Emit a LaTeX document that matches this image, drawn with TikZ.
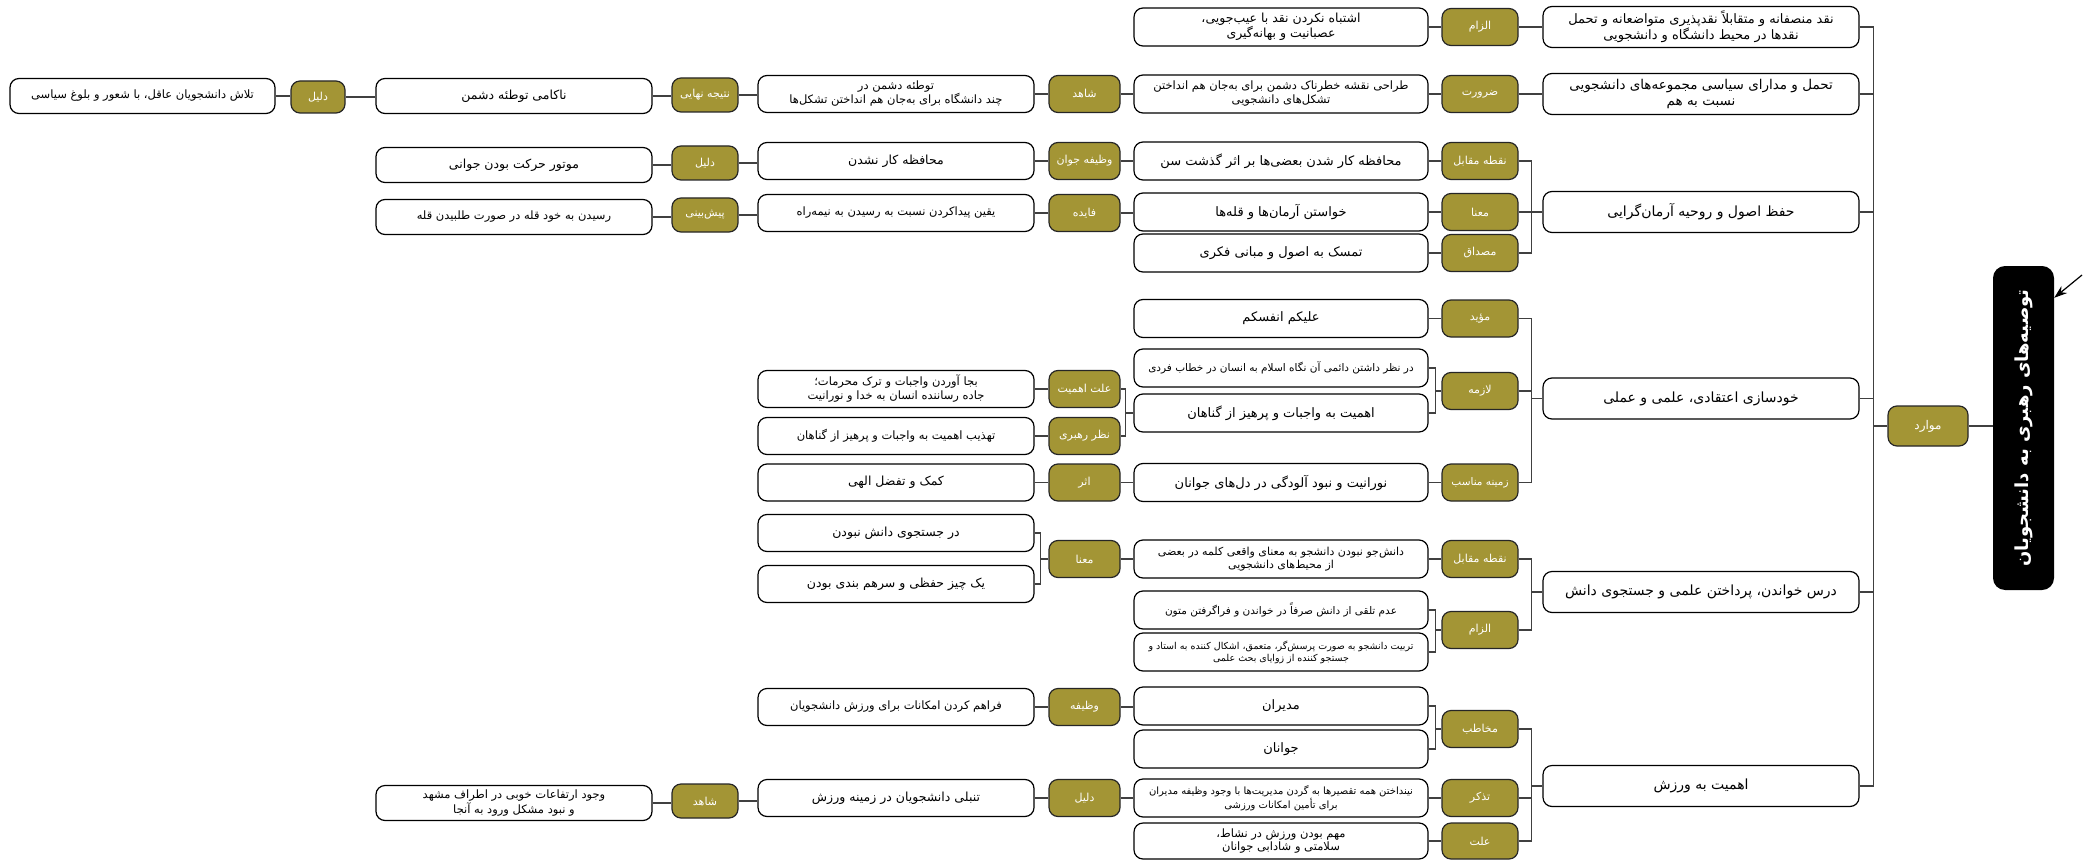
\documentclass[tikz,border=0pt]{standalone}
\usepackage{fontspec}
\usetikzlibrary{arrows.meta}
\TeXXeTstate=1
\newfontfamily\arabicfont[Script=Arabic]{DejaVu Sans}
\newcommand{\fa}[1]{\beginR #1\endR}
\newcommand{\fnt}[2]{\arabicfont\fontsize{#1}{#2}\selectfont}
\definecolor{olivetag}{RGB}{163,149,53}
\definecolor{linegray}{RGB}{64,64,64}
\begin{document}
\begin{tikzpicture}[x=1pt,y=-1pt,
  box/.style={draw=black, line width=1.2pt, rounded corners=9pt, fill=white, align=center, inner sep=1pt, font=\fnt{12.5}{14.5}},
  tg/.style={draw=black!85, line width=1.2pt, rounded corners=9pt, fill=olivetag, text=white, align=center, inner sep=1pt, font=\fnt{11}{13}},
  l1/.style={box, minimum width=316pt, minimum height=41pt, font=\fnt{14}{16}},
  ct2/.style={box, minimum width=294pt, minimum height=38pt},
  tg2/.style={tg, minimum width=76pt, minimum height=37pt},
  tg3/.style={tg, minimum width=71pt, minimum height=37pt},
  ct3/.style={box, minimum width=276pt, minimum height=37pt},
  tg4/.style={tg, minimum width=66pt, minimum height=34pt},
  ct4/.style={box, minimum width=276pt, minimum height=35pt},
  con/.style={draw=linegray, line width=1.3pt},
]
\useasboundingbox[fill=white] (0,0) rectangle (2098,861);

% title
\node[fill=black, rounded corners=12pt, rotate=90, minimum width=324pt, minimum height=61pt, text=white, font=\arabicfont\bfseries\fontsize{18}{22}\selectfont] (T) at (2023.5,428) {\fa{توصیه^^^^200cهای رهبری به دانشجویان}};
\node[tg, minimum width=80pt, minimum height=40pt, font=\fnt{12}{14}] (M) at (1928,426) {\fa{موارد}};
\draw[con] (M.east) -- (M.east -| T.north);
\coordinate (arrtail) at (2082,275);
\draw[line width=1.2pt, -{Stealth[length=13pt,width=9pt]}] (arrtail) -- ([yshift=-32pt]T.south east);

% level 1
\node[l1, font=\fnt{13}{16}] (L1a) at (1701,27) {\fa{نقد منصفانه و متقابلاً نقدپذیری متواضعانه و تحمل}\\\fa{نقدها در محیط دانشگاه و دانشجویی}};
\node[l1, font=\fnt{13.5}{16}] (L1b) at (1701,94) {\fa{تحمل و مدارای سیاسی مجموعه^^^^200cهای دانشجویی}\\\fa{نسبت به هم}};
\node[l1] (L1c) at (1701,212) {\fa{حفظ اصول و روحیه آرمان^^^^200cگرایی}};
\node[l1] (L1d) at (1701,398.5) {\fa{خودسازی اعتقادی، علمی و عملی}};
\node[l1] (L1e) at (1701,592) {\fa{درس خواندن، پرداختن علمی و جستجوی دانش}};
\node[l1] (L1f) at (1701,786) {\fa{اهمیت به ورزش}};
\foreach \X in {L1a,L1b,L1c,L1d,L1e,L1f}{
  \draw[con] (\X.east) -| ([xshift=-14pt]M.west) -- (M.west);
}

% level 2 tags
\node[tg2] (t2a) at (1480,27) {\fa{الزام}};
\node[tg2] (t2b) at (1480,94) {\fa{ضرورت}};
\node[tg2] (t2c) at (1480,161) {\fa{نقطه مقابل}};
\node[tg2] (t2d) at (1480,212) {\fa{معنا}};
\node[tg2] (t2e) at (1480,253) {\fa{مصداق}};
\node[tg2] (t2f) at (1480,318.5) {\fa{مؤید}};
\node[tg2] (t2g) at (1480,391) {\fa{لازمه}};
\node[tg2, font=\fnt{10.5}{13}] (t2h) at (1480,482.5) {\fa{زمینه مناسب}};
\node[tg2] (t2i) at (1480,559) {\fa{نقطه مقابل}};
\node[tg2] (t2j) at (1480,630) {\fa{الزام}};
\node[tg2] (t2k) at (1480,729) {\fa{مخاطب}};
\node[tg2] (t2l) at (1480,798) {\fa{تذکر}};
\node[tg2, minimum height=36pt] (t2m) at (1480,841) {\fa{علت}};

\draw[con] (t2a.east) -- (t2a.east -| L1a.west);
\draw[con] (t2b.east) -- (t2b.east -| L1b.west);
\foreach \C/\P in {t2c/L1c,t2d/L1c,t2e/L1c,t2f/L1d,t2g/L1d,t2h/L1d,t2i/L1e,t2j/L1e,t2k/L1f,t2l/L1f,t2m/L1f}{
  \draw[con] (\C.east) -| ([xshift=-11pt]\P.west) -- (\P.west);
}

% level 2 content
\node[ct2] (c2a) at (1281,27) {\fa{اشتباه نکردن نقد با عیب^^^^200cجویی،}\\\fa{عصبانیت و بهانه^^^^200cگیری}};
\node[ct2, font=\fnt{11.5}{14}] (c2b) at (1281,94) {\fa{طراحی نقشه خطرناک دشمن برای به^^^^200cجان هم انداختن}\\\fa{تشکل^^^^200cهای دانشجویی}};
\node[ct2, font=\fnt{13}{15}] (c2c) at (1281,161) {\fa{محافظه کار شدن بعضی^^^^200cها بر اثر گذشت سن}};
\node[ct2, font=\fnt{13}{15}] (c2d) at (1281,212) {\fa{خواستن آرمان^^^^200cها و قله^^^^200cها}};
\node[ct2, font=\fnt{13}{15}] (c2e) at (1281,253) {\fa{تمسک به اصول و مبانی فکری}};
\node[ct2, font=\fnt{13}{15}] (c2f) at (1281,318.5) {\fa{علیکم انفسکم}};
\node[ct2, font=\fnt{10.5}{13}] (c2g) at (1281,368) {\fa{در نظر داشتن دائمی آن نگاه اسلام به انسان در خطاب فردی}};
\node[ct2, font=\fnt{13}{15}] (c2h) at (1281,413) {\fa{اهمیت به واجبات و پرهیز از گناهان}};
\node[ct2, font=\fnt{13}{15}] (c2i) at (1281,482.5) {\fa{نورانیت و نبود آلودگی در دل^^^^200cهای جوانان}};
\node[ct2, font=\fnt{11}{13.5}] (c2j) at (1281,559) {\fa{دانش^^^^200cجو نبودن دانشجو به معنای واقعی کلمه در بعضی}\\\fa{از محیط^^^^200cهای دانشجویی}};
\node[ct2, font=\fnt{10.5}{13}] (c2k) at (1281,610) {\fa{عدم تلقی از دانش صرفاً در خواندن و فراگرفتن متون}};
\node[ct2, font=\fnt{9.5}{12}] (c2l) at (1281,652) {\fa{تربیت دانشجو به صورت پرسش^^^^200cگر، متعمق، اشکال کننده به استاد و}\\\fa{جستجو کننده از زوایای بحث علمی}};
\node[ct2, font=\fnt{13}{15}] (c2m) at (1281,706) {\fa{مدیران}};
\node[ct2, font=\fnt{13}{15}] (c2n) at (1281,749) {\fa{جوانان}};
\node[ct2, font=\fnt{10}{12.5}] (c2o) at (1281,798) {\fa{نینداختن همه تقصیرها به گردن مدیریت^^^^200cها با وجود وظیفه مدیران}\\\fa{برای تأمین امکانات ورزشی}};
\node[ct2, minimum height=36pt, font=\fnt{11.5}{13.5}] (c2p) at (1281,841) {\fa{مهم بودن ورزش در نشاط،}\\\fa{سلامتی و شادابی جوانان}};

\foreach \C/\P in {c2a/t2a,c2b/t2b,c2c/t2c,c2d/t2d,c2e/t2e,c2f/t2f,c2i/t2h,c2j/t2i,c2o/t2l,c2p/t2m}{
  \draw[con] (\C.east) -- (\C.east -| \P.west);
}
\foreach \C/\P in {c2g/t2g,c2h/t2g,c2k/t2j,c2l/t2j,c2m/t2k,c2n/t2k}{
  \draw[con] (\C.east) -| ([xshift=-6pt]\P.west) -- (\P.west);
}

% level 3 tags
\node[tg3] (t3a) at (1084.5,94) {\fa{شاهد}};
\node[tg3] (t3b) at (1084.5,161) {\fa{وظیفه جوان}};
\node[tg3] (t3c) at (1084.5,213) {\fa{فایده}};
\node[tg3] (t3d) at (1084.5,389) {\fa{علت اهمیت}};
\node[tg3] (t3e) at (1084.5,436) {\fa{نظر رهبری}};
\node[tg3] (t3f) at (1084.5,482.5) {\fa{اثر}};
\node[tg3] (t3g) at (1084.5,559) {\fa{معنا}};
\node[tg3] (t3h) at (1084.5,707) {\fa{وظیفه}};
\node[tg3] (t3i) at (1084.5,798) {\fa{دلیل}};

\foreach \C/\P in {t3a/c2b,t3b/c2c,t3c/c2d,t3f/c2i,t3g/c2j,t3h/c2m,t3i/c2o}{
  \draw[con] (\C.east) -- (\C.east -| \P.west);
}
\foreach \C in {t3d,t3e}{
  \draw[con] (\C.east) -| ([xshift=-8pt]c2h.west) -- (c2h.west);
}

% level 3 content
\node[ct3, font=\fnt{11.5}{14}] (c3a) at (896,94) {\fa{توطئه دشمن در}\\\fa{چند دانشگاه برای به^^^^200cجان هم انداختن تشکل^^^^200cها}};
\node[ct3] (c3b) at (896,161) {\fa{محافظه کار نشدن}};
\node[ct3, font=\fnt{11.5}{14}] (c3c) at (896,213) {\fa{یقین پیداکردن نسبت به رسیدن به نیمه^^^^200cراه}};
\node[ct3, font=\fnt{11.5}{14}] (c3d) at (896,389) {\fa{بجا آوردن واجبات و ترک محرمات؛}\\\fa{جاده رساننده انسان به خدا و نورانیت}};
\node[ct3, font=\fnt{11.5}{14}] (c3e) at (896,436) {\fa{تهذیب اهمیت به واجبات و پرهیز از گناهان}};
\node[ct3] (c3f) at (896,482.5) {\fa{کمک و تفضل الهی}};
\node[ct3] (c3g) at (896,533) {\fa{در جستجوی دانش نبودن}};
\node[ct3] (c3h) at (896,584) {\fa{یک چیز حفظی و سرهم بندی بودن}};
\node[ct3, font=\fnt{11.5}{14}] (c3i) at (896,707) {\fa{فراهم کردن امکانات برای ورزش دانشجویان}};
\node[ct3] (c3j) at (896,798) {\fa{تنبلی دانشجویان در زمینه ورزش}};

\foreach \C/\P in {c3a/t3a,c3b/t3b,c3c/t3c,c3d/t3d,c3e/t3e,c3f/t3f,c3i/t3h,c3j/t3i}{
  \draw[con] (\C.east) -- (\C.east -| \P.west);
}
\foreach \C in {c3g,c3h}{
  \draw[con] (\C.east) -| ([xshift=-8pt]t3g.west) -- (t3g.west);
}

% level 4
\node[tg4] (t4a) at (705,95) {\fa{نتیجه نهایی}};
\node[tg4] (t4b) at (705,163) {\fa{دلیل}};
\node[tg4] (t4c) at (705,215) {\fa{پیش^^^^200cبینی}};
\node[tg4] (t4d) at (705,801) {\fa{شاهد}};
\node[ct4] (c4a) at (514,96) {\fa{ناکامی توطئه دشمن}};
\node[ct4] (c4b) at (514,165) {\fa{موتور حرکت بودن جوانی}};
\node[ct4, font=\fnt{11.5}{14}] (c4c) at (514,217) {\fa{رسیدن به خود قله در صورت طلبیدن قله}};
\node[ct4, font=\fnt{11.5}{13.5}] (c4d) at (514,803) {\fa{وجود ارتفاعات خوبی در اطراف مشهد}\\\fa{و نبود مشکل ورود به آنجا}};
\foreach \C/\P in {t4a/c3a,t4b/c3b,t4c/c3c,t4d/c3j,c4a/t4a,c4b/t4b,c4c/t4c,c4d/t4d}{
  \draw[con] (\C.east) -- (\C.east -| \P.west);
}

% level 5
\node[tg, minimum width=54pt, minimum height=32pt] (t5) at (318,97) {\fa{دلیل}};
\node[box, minimum width=265pt, minimum height=35pt, font=\fnt{11.5}{13.5}] (c5) at (142.5,96) {\fa{تلاش دانشجویان عاقل، با شعور و بلوغ سیاسی}};
\draw[con] (t5.east) -- (t5.east -| c4a.west);
\draw[con] (c5.east) -- (c5.east -| t5.west);
\end{tikzpicture}
\end{document}
